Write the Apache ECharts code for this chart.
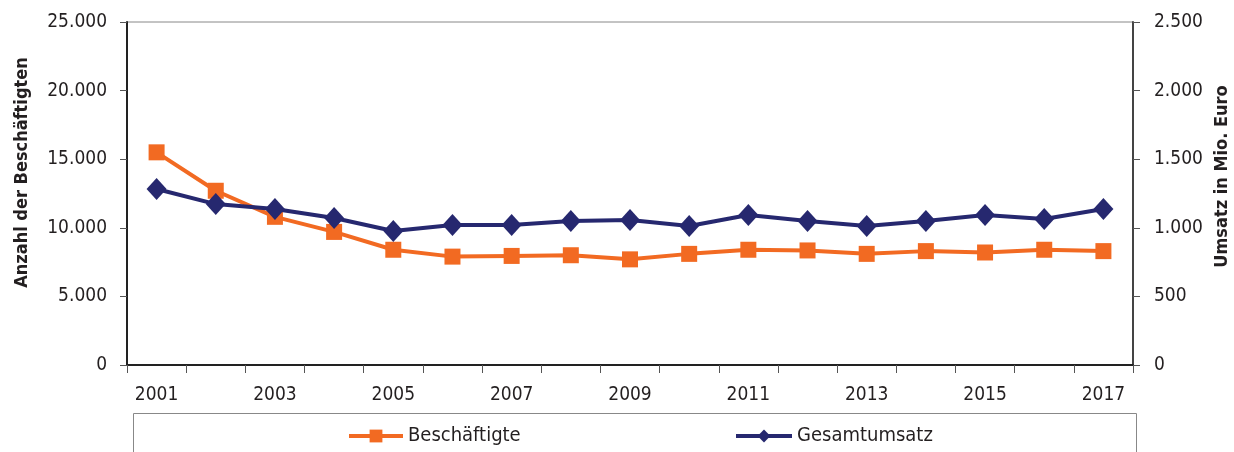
<!DOCTYPE html>
<html>
<head>
<meta charset="utf-8">
<script src="https://cdn.jsdelivr.net/npm/echarts@6/dist/echarts.min.js"></script>
<style>
  html, body { margin: 0; padding: 0; background: #fff; }
  #chart { width: 1234px; height: 452px; }
</style>
</head>
<body>
<div id="chart"></div>
<script>
// Years on the x axis
const years = ['2001', '2002', '2003', '2004', '2005', '2006', '2007', '2008', '2009',
               '2010', '2011', '2012', '2013', '2014', '2015', '2016', '2017'];

// Anzahl der Beschäftigten (left axis)
const beschaeftigte = [15500, 12700, 10800, 9700, 8400, 7900, 7950, 8000, 7700,
                       8100, 8400, 8350, 8100, 8300, 8200, 8400, 8300];

// Gesamtumsatz in Mio. Euro (right axis)
const gesamtumsatz = [1283, 1173, 1137, 1071, 977, 1020, 1020, 1050, 1057,
                      1013, 1093, 1050, 1013, 1050, 1093, 1064, 1137];

const leftTicks = { min: 0, max: 25000, interval: 5000 };
const rightTicks = { min: 0, max: 2500, interval: 500 };

const ORANGE = '#F26A22';
const NAVY = '#26286F';
const TEXT = '#231F20';
const FONT = '"DejaVu Sans Condensed", "DejaVu Sans", sans-serif';

// German thousands separator
function fmt(v) {
    return String(v).replace(/\B(?=(\d{3})+(?!\d))/g, '.');
}

const chart = echarts.init(document.getElementById('chart'));

const option = {
    animation: false,
    textStyle: { fontFamily: FONT, color: TEXT },
    grid: {
        left: 127,
        right: 101,
        top: 22,
        bottom: 87,
        outerBoundsMode: 'none',
        containLabel: false,
        show: true,
        borderColor: '#888',
        borderWidth: 1
    },
    graphic: [
        {
            type: 'rect',
            shape: { x: 133.5, y: 413.5, width: 1003, height: 60 },
            style: { fill: 'none', stroke: '#888', lineWidth: 1 },
            silent: true
        }
    ],
    legend: [
        {
            data: ['Beschäftigte'],
            left: 347,
            top: 426,
            padding: 0,
            itemWidth: 54,
            itemHeight: 16,
            itemGap: 4,
            lineStyle: { width: 4 },
            textStyle: { fontFamily: FONT, fontSize: 20, color: TEXT }
        },
        {
            data: ['Gesamtumsatz'],
            left: 734,
            top: 426,
            padding: 0,
            itemWidth: 56,
            itemHeight: 16,
            itemGap: 4,
            lineStyle: { width: 4 },
            textStyle: { fontFamily: FONT, fontSize: 20, color: TEXT }
        }
    ],
    xAxis: {
        type: 'category',
        data: years,
        boundaryGap: true,
        axisLine: { lineStyle: { color: '#222', width: 2 } },
        axisTick: { show: true, interval: 0, length: 8, lineStyle: { color: '#555' } },
        axisLabel: {
            interval: 1,
            margin: 21,
            fontFamily: FONT,
            fontSize: 19,
            color: TEXT
        },
        splitLine: { show: false }
    },
    yAxis: [
        {
            type: 'value',
            min: leftTicks.min,
            max: leftTicks.max,
            interval: leftTicks.interval,
            position: 'left',
            name: 'Anzahl der Beschäftigten',
            nameLocation: 'middle',
            nameGap: 96,
            nameTextStyle: { fontFamily: FONT, fontSize: 18, fontWeight: 'bold', color: TEXT,
                             padding: [0, 0, 0, 42] },
            axisLine: { show: true, lineStyle: { color: '#222', width: 2 } },
            axisTick: { show: true, length: 7, lineStyle: { color: '#555' } },
            axisLabel: {
                margin: 20,
                fontFamily: FONT,
                fontSize: 19,
                color: TEXT,
                formatter: fmt
            },
            splitLine: { show: false }
        },
        {
            type: 'value',
            min: rightTicks.min,
            max: rightTicks.max,
            interval: rightTicks.interval,
            position: 'right',
            name: 'Umsatz in Mio. Euro',
            nameLocation: 'middle',
            nameGap: 80,
            nameTextStyle: { fontFamily: FONT, fontSize: 18, fontWeight: 'bold', color: TEXT,
                             padding: [0, 0, 0, 34] },
            axisLine: { show: true, lineStyle: { color: '#444', width: 2 } },
            axisTick: { show: true, length: 7, lineStyle: { color: '#555' } },
            axisLabel: {
                margin: 21,
                fontFamily: FONT,
                fontSize: 19,
                color: TEXT,
                formatter: fmt
            },
            splitLine: { show: false }
        }
    ],
    series: [
        {
            name: 'Beschäftigte',
            type: 'line',
            yAxisIndex: 0,
            data: beschaeftigte,
            symbol: 'rect',
            symbolSize: 16,
            lineStyle: { color: ORANGE, width: 4 },
            itemStyle: { color: ORANGE },
            z: 2
        },
        {
            name: 'Gesamtumsatz',
            type: 'line',
            yAxisIndex: 1,
            data: gesamtumsatz,
            symbol: 'diamond',
            symbolSize: [20, 22],
            lineStyle: { color: NAVY, width: 4 },
            itemStyle: { color: NAVY },
            z: 3
        }
    ]
};

chart.setOption(option);
window.addEventListener('resize', () => chart.resize());
</script>
</body>
</html>
